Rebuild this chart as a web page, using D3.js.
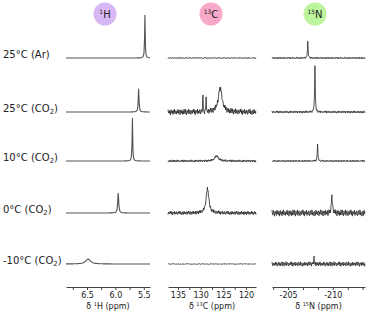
<!DOCTYPE html>
<html>
<head>
<meta charset="utf-8">
<script src="https://cdn.jsdelivr.net/npm/d3@7"></script>
<style>
  body { margin: 0; background: #fff; }
  text { font-family: "DejaVu Sans", Verdana, sans-serif; fill: #222; }
</style>
</head>
<body>
<script>
// row labels (temperature / gas)
var rowLabels = ['25°C (Ar)', '25°C (CO2)', '10°C (CO2)', '0°C (CO2)', '-10°C (CO2)'];

// 1H: peak shift (ppm), height (rel.), half width (ppm), noise amplitude
var hShift  = [5.48, 5.59, 5.70, 5.95, 6.48];
var hHeight = [93, 50, 93, 43, 11];
var hWidth  = [0.006, 0.008, 0.006, 0.01, 0.05];
var hNoise  = [0, 0, 0, 0, 0];
var hTicks  = [6.75, 6.5, 6.25, 6.0, 5.75, 5.5];
var hLabels = [6.5, 6.0, 5.5];

// 13C
var cShift  = [126, 125.7, 126.5, 128.5, 126];
var cHeight = [0, 52, 11, 54, 0];
var cWidth  = [0.5, 0.5, 0.5, 0.35, 0.5];
var cNoise  = [1.3, 6.7, 2.7, 4.4, 0.8];
var cSpikes = [[1, 129.5, 30], [1, 128.8, 26]];   // [row, ppm, height]
var cTicks  = [135, 132.5, 130, 127.5, 125, 122.5, 120];
var cLabels = [135, 130, 125, 120];

// 15N
var nShift  = [-207.2, -208.0, -208.3, -209.9, -207.9];
var nHeight = [35, 100, 35, 33, 13];
var nWidth  = [0.04, 0.04, 0.04, 0.08, 0.04];
var nNoise  = [2.2, 2.8, 2.2, 7.6, 5.4];
var nTicks  = [-203.33, -205, -206.67, -208.33, -210, -211.67, -213.33];
var nLabels = [-205, -210];

// hand typed noise texture
var noise = [0.3, -0.6, 0.8, -0.2, -0.9, 0.5, 0.1, -0.4, 0.9, -0.7, 0.2, 0.6, -0.3, -0.8, 0.4, 0.0,
  -0.5, 0.7, -0.1, 0.9, -0.6, 0.3, -0.9, 0.5, 0.2, -0.3, 0.8, -0.7, 0.1, -0.4, 0.6, -0.2, -0.8, 0.4,
  0.7, -0.5, 0.0, 0.9, -0.6, 0.3, -0.1, -0.9, 0.5, 0.2, -0.7, 0.8, -0.3, 0.4, -0.5, 0.1, 0.6, -0.8,
  0.3, -0.2, 0.9, -0.4, -0.6, 0.7, 0.1, -0.9, 0.4, -0.1, 0.5, -0.7, 0.8, -0.3, 0.2, -0.5, 0.6, -0.9,
  0.0, 0.7, -0.4, 0.3, -0.8, 0.5, -0.2, 0.9, -0.6, 0.1, 0.4, -0.7, 0.2, -0.3, 0.8, -0.5, 0.6, -0.1,
  -0.9, 0.3, 0.7, -0.4, 0.5, -0.8, 0.2, -0.6, 0.9];

var width = 367;
var height = 314;
var rowY = [58, 112, 161, 213, 264];
var axisY = 287;

var svg = d3.select('body')
  .append('svg')
  .attr('width', width)
  .attr('height', height);

// plain hyphen for negative numbers, like the original
var fmt1 = function(d) { return d.toFixed(1); };
var fmt0 = function(d) { return String(d); };

var panels = [
  { num: '1', el: 'H', color: '#d8b8f4', cx: 105, x0: 66, x1: 150, domain: [6.87, 5.39],
    shift: hShift, h: hHeight, w: hWidth, amp: hNoise, spikes: [], ticks: hTicks, labels: hLabels,
    fmt: fmt1, stroke: '#555', sw: 1.1 },
  { num: '13', el: 'C', color: '#f8a9c9', cx: 211, x0: 168, x1: 256, domain: [137.2, 117.8],
    shift: cShift, h: cHeight, w: cWidth, amp: cNoise, spikes: cSpikes, ticks: cTicks, labels: cLabels,
    fmt: fmt0, stroke: '#222', sw: 0.8 },
  { num: '15', el: 'N', color: '#bdf59c', cx: 315, x0: 272, x1: 365, domain: [-203.2, -213.6],
    shift: nShift, h: nHeight, w: nWidth, amp: nNoise, spikes: [], ticks: nTicks, labels: nLabels,
    fmt: fmt0, stroke: '#2a2a2a', sw: 0.8 }
];

var y = d3.scaleLinear().domain([0, 100]).range([0, 46]);

// row labels
rowLabels.forEach(function(lab, i) {
  var t = svg.append('text')
    .attr('x', 3)
    .attr('y', rowY[i])
    .attr('font-size', '10px');
  var parts = lab.split('CO2');
  t.append('tspan').text(parts[0] + (parts.length > 1 ? 'CO' : ''));
  if (parts.length > 1) {
    t.append('tspan').attr('font-size', '7px').attr('dy', 2).text('2');
    t.append('tspan').attr('dy', -2).text(parts[1]);
  }
});

panels.forEach(function(p, pi) {
  var x = d3.scaleLinear().domain(p.domain).range([p.x0, p.x1]);

  // header circle
  svg.append('circle')
    .attr('cx', p.cx)
    .attr('cy', 14)
    .attr('r', 11.5)
    .attr('fill', p.color);
  var ht = svg.append('text')
    .attr('x', p.cx)
    .attr('y', 18)
    .attr('text-anchor', 'middle')
    .attr('font-size', '10px');
  ht.append('tspan').attr('font-size', '6px').attr('dy', -4).text(p.num);
  ht.append('tspan').attr('dy', 4).text(p.el);

  // spectra
  var step = (p.domain[0] - p.domain[1]) / ((p.x1 - p.x0) * 2);
  rowLabels.forEach(function(lab, r) {
    var peaks = [[p.shift[r], p.h[r], p.w[r]]];
    p.spikes.forEach(function(s) {
      if (s[0] === r) peaks.push([s[1], s[2], 0.05]);
    });
    var ppm = d3.range(p.domain[0], p.domain[1] - step / 2, -step);
    peaks.forEach(function(k) { if (k[1] > 0) ppm.push(k[0]); });
    ppm.sort(function(a, b) { return b - a; });
    var pts = ppm.map(function(v, i) {
      var s = 0;
      peaks.forEach(function(k) {
        var d = (v - k[0]) / k[2];
        s += k[1] / (1 + d * d);
      });
      s += noise[(i + r * 23 + pi * 41) % noise.length] * p.amp[r];
      return [v, s];
    });
    svg.append('path')
      .datum(pts)
      .attr('fill', 'none')
      .attr('stroke', p.stroke)
      .attr('stroke-width', p.sw)
      .attr('stroke-linejoin', 'round')
      .attr('d', d3.line()
        .x(function(d) { return x(d[0]); })
        .y(function(d) { return rowY[r] - y(d[1]); }));
  });

  // axis
  var axis = d3.axisBottom(x)
    .tickValues(p.ticks)
    .tickSize(3)
    .tickSizeOuter(0)
    .tickPadding(2)
    .tickFormat(function(d) {
      return p.labels.indexOf(d) >= 0 ? p.fmt(d) : '';
    });
  var g = svg.append('g')
    .attr('transform', 'translate(0,' + axisY + ')')
    .call(axis);
  g.select('.domain').attr('stroke', '#444');
  g.selectAll('.tick line').attr('stroke', '#444');
  g.selectAll('.tick text')
    .attr('font-family', '"DejaVu Sans", Verdana, sans-serif')
    .attr('font-size', '8px')
    .attr('fill', '#222');

  var tt = svg.append('text')
    .attr('x', (p.x0 + p.x1) / 2)
    .attr('y', 309)
    .attr('text-anchor', 'middle')
    .attr('font-size', '8px');
  tt.append('tspan').text('δ ');
  tt.append('tspan').attr('font-size', '5px').attr('dy', -3).text(p.num);
  tt.append('tspan').attr('dy', 3).text(p.el + ' (ppm)');
});
</script>
</body>
</html>
